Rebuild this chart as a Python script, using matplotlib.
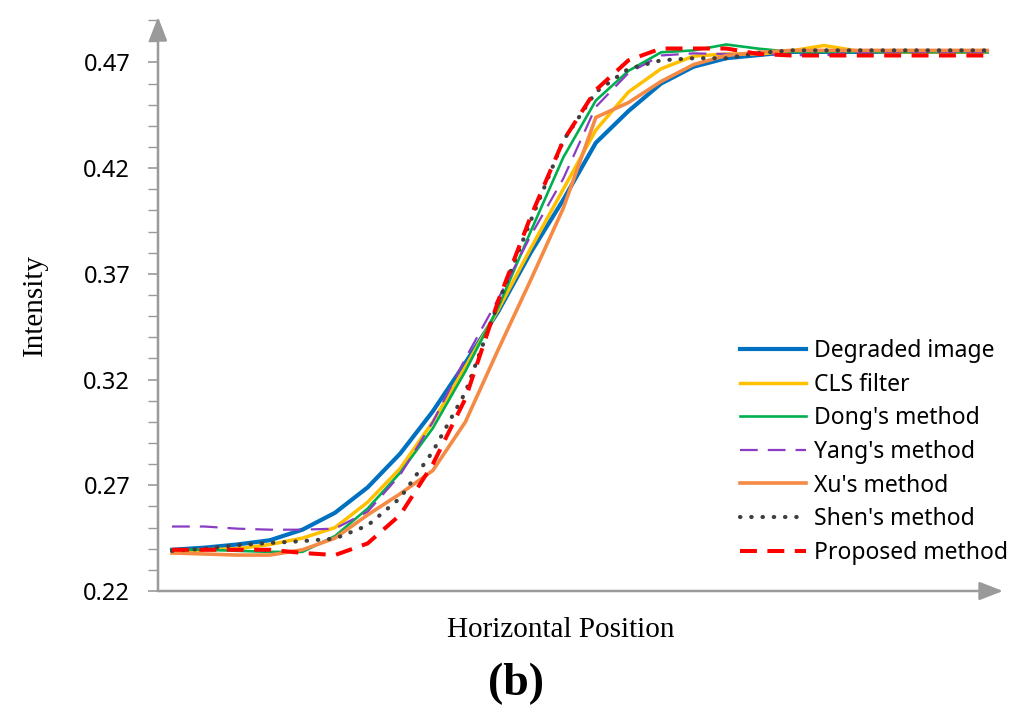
import numpy as np
import matplotlib
matplotlib.use('Agg')
import matplotlib.pyplot as plt
from matplotlib.ticker import MultipleLocator

# horizontal sample positions (26 samples across the edge)
positions = np.arange(26)

degraded = [0.2395, 0.2405, 0.242, 0.244, 0.249, 0.257, 0.269, 0.285, 0.305, 0.328,
            0.352, 0.380, 0.405, 0.432, 0.447, 0.460, 0.468, 0.472, 0.4735, 0.475,
            0.475, 0.475, 0.475, 0.475, 0.475, 0.475]
cls_filter = [0.238, 0.2395, 0.240, 0.242, 0.245, 0.250, 0.262, 0.278, 0.300, 0.326,
              0.353, 0.382, 0.410, 0.438, 0.456, 0.467, 0.473, 0.474, 0.474, 0.4755,
              0.478, 0.4755, 0.475, 0.475, 0.475, 0.475]
dong = [0.2395, 0.2395, 0.239, 0.2385, 0.2385, 0.246, 0.259, 0.276, 0.297, 0.324,
        0.354, 0.390, 0.425, 0.452, 0.466, 0.4748, 0.4757, 0.4785, 0.4765, 0.475,
        0.475, 0.475, 0.475, 0.475, 0.475, 0.475]
yang = [0.2505, 0.2505, 0.2495, 0.249, 0.249, 0.2495, 0.2575, 0.275, 0.300, 0.330,
        0.358, 0.388, 0.415, 0.449, 0.465, 0.4733, 0.4743, 0.474, 0.474, 0.4735,
        0.4733, 0.475, 0.475, 0.475, 0.475, 0.475]
xu = [0.238, 0.2375, 0.237, 0.237, 0.2395, 0.245, 0.256, 0.266, 0.277, 0.300,
      0.334, 0.367, 0.401, 0.444, 0.451, 0.461, 0.469, 0.4733, 0.4748, 0.4757,
      0.4757, 0.4757, 0.4757, 0.4757, 0.4757, 0.4757]
shen = [0.239, 0.240, 0.2417, 0.2427, 0.2436, 0.2448, 0.251, 0.264, 0.286, 0.314,
        0.356, 0.395, 0.433, 0.456, 0.467, 0.471, 0.472, 0.472, 0.4745, 0.4757,
        0.4757, 0.4757, 0.4757, 0.4757, 0.4757, 0.4757]
proposed = [0.2395, 0.2395, 0.2395, 0.2395, 0.238, 0.237, 0.2425, 0.256, 0.280, 0.311,
            0.357, 0.397, 0.433, 0.457, 0.471, 0.4766, 0.4766, 0.4766, 0.474, 0.4733,
            0.4733, 0.4733, 0.4733, 0.4733, 0.4733, 0.4733]

y_ticks = [0.22, 0.27, 0.32, 0.37, 0.42, 0.47]

sans = ['Noto Sans', 'DejaVu Sans']
serif = ['Liberation Serif', 'DejaVu Serif']
axis_grey = '#9A9A9A'

fig = plt.figure(figsize=(10.24, 7.21), dpi=100)
ax = fig.add_axes([158 / 1024, 130 / 721, (1003 - 158) / 1024, (591 - 17) / 721])

ax.plot(positions, degraded, color='#0070C0', lw=3.0, label='Degraded image')
ax.plot(positions, cls_filter, color='#FFC000', lw=2.5, label='CLS filter')
ax.plot(positions, dong, color='#00B050', lw=1.9, label="Dong's method")
ax.plot(positions, yang, color='#8A3CC4', lw=1.6, ls=(0, (8, 4.5)), label="Yang's method")
ax.plot(positions, xu, color='#F58A45', lw=2.6, label="Xu's method")
ax.plot(positions, shen, color='#3F3F3F', lw=3.0, ls=(0, (0.1, 2.6)),
        dash_capstyle='round', label="Shen's method")
ax.plot(positions, proposed, color='#FF0000', lw=2.9, ls=(0, (4.2, 2.6)), label='Proposed method')

ax.set_xlim(-0.43, 25.49)
ax.set_ylim(0.22, 0.4915)

for side in ['top', 'right', 'left', 'bottom']:
    ax.spines[side].set_visible(False)

# axis lines with arrow heads
arrow = dict(arrowstyle='-|>,head_length=0.9,head_width=0.35', color=axis_grey, lw=1.8,
             shrinkA=0, shrinkB=0, mutation_scale=16)
ax.annotate('', xy=(1, 0), xytext=(0, 0), xycoords='axes fraction', arrowprops=arrow,
            annotation_clip=False)
ax.annotate('', xy=(0, 1), xytext=(0, 0), xycoords='axes fraction', arrowprops=arrow,
            annotation_clip=False)

ax.set_xticks([])
ax.set_yticks(y_ticks)
ax.set_yticklabels(['%.2f' % v for v in y_ticks], fontsize=17, family=sans)
ax.yaxis.set_minor_locator(MultipleLocator(0.01))
ax.tick_params(axis='y', which='major', direction='out', length=7, width=1.2,
               color=axis_grey, pad=13)
ax.tick_params(axis='y', which='minor', direction='out', length=7, width=1.0,
               color=axis_grey)

fig.text(35 / 1024, 1 - 305 / 721, 'Intensity', rotation=90, ha='center', va='center',
         fontsize=21, family=serif)
fig.text(561 / 1024, 1 - 630 / 721, 'Horizontal Position', ha='center', va='center',
         fontsize=21, family=serif)
fig.text(516 / 1024, 1 - 684 / 721, '(b)', ha='center', va='center',
         fontsize=33, fontweight='bold', family=serif)

leg = ax.legend(loc='upper left', bbox_to_anchor=(740 / 1024, 1 - 339 / 721),
                bbox_transform=fig.transFigure, frameon=False, borderpad=0,
                borderaxespad=0, handlelength=2.9, handletextpad=0.35,
                labelspacing=0.42, prop={'family': sans, 'size': 16.5})

fig.savefig('out.png', dpi=100)
